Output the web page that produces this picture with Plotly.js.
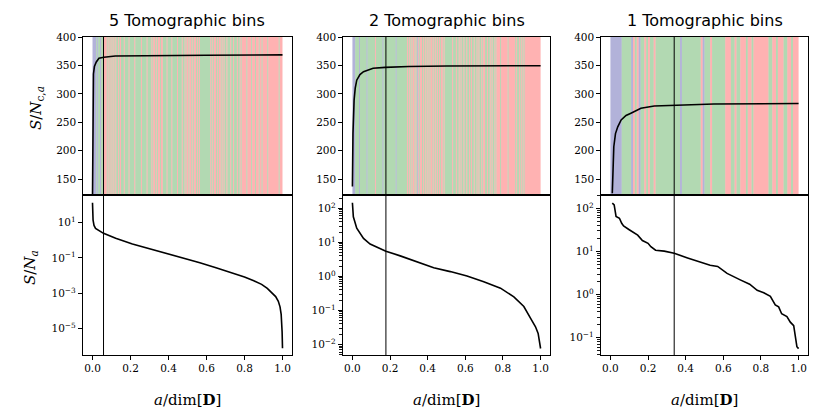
<!DOCTYPE html>
<html><head><meta charset="utf-8">
<script src="https://cdn.plot.ly/plotly-3.0.1.min.js"></script>
<style>html,body{margin:0;padding:0;background:#fff}#chart{width:830px;height:415px}</style>
</head><body><div id="chart"></div>
<script>
// ---------------- data ----------------
const panelTitles = ['5 Tomographic bins', '2 Tomographic bins', '1 Tomographic bins'];
const cutoffs = [0.058, 0.178, 0.339];

// cumulative S/N (top row)
const cumA1  = [0, 0.002, 0.005, 0.01, 0.02, 0.034, 0.06, 0.12, 0.3, 0.6, 1.0];
const cumSN1 = [118, 300, 335, 348, 356, 362.5, 364.5, 366.5, 367.5, 368, 368.5];
const cumA2  = [0, 0.003, 0.009, 0.015, 0.023, 0.04, 0.059, 0.11, 0.174, 0.3, 0.5, 1.0];
const cumSN2 = [137, 230, 289, 310, 324, 334, 339, 345, 346.5, 348, 349, 349.5];
const cumA3  = [0.01, 0.018, 0.027, 0.039, 0.057, 0.083, 0.109, 0.162, 0.233, 0.339, 0.55, 1.0];
const cumSN3 = [125, 207, 230, 242, 254, 262, 266, 274.5, 278.5, 280, 282, 283];

// per-mode S/N (bottom row)
const modeA1  = [0, 0.001, 0.003, 0.008, 0.016, 0.058, 0.122, 0.21, 0.3, 0.388, 0.48, 0.565, 0.65, 0.743, 0.8, 0.849, 0.89, 0.92, 0.945, 0.964, 0.978, 0.987, 0.993, 0.996, 0.998, 1.0];
const modeSN1 = [135, 40, 14, 7, 4.8, 2.5, 1.3, 0.62, 0.34, 0.19, 0.1, 0.054, 0.028, 0.0135, 0.0083, 0.0051, 0.0032, 0.0019, 0.0011, 6.5e-4, 3.5e-4, 1.7e-4, 6.3e-5, 2.0e-5, 6.3e-6, 7.6e-7];
const modeA2  = [0, 0.002, 0.005, 0.023, 0.041, 0.059, 0.094, 0.13, 0.178, 0.254, 0.343, 0.432, 0.52, 0.609, 0.698, 0.787, 0.858, 0.911, 0.947, 0.973, 0.987, 0.996, 1.0];
const modeSN2 = [145, 90, 56, 26, 18, 13, 8.9, 7.4, 5.5, 4.0, 2.7, 1.8, 1.38, 1.02, 0.69, 0.45, 0.25, 0.13, 0.058, 0.033, 0.021, 0.012, 0.0076];
const modeA3  = [0.01, 0.02, 0.03, 0.048, 0.06, 0.07, 0.10, 0.145, 0.17, 0.20, 0.215, 0.24, 0.286, 0.339, 0.41, 0.46, 0.53, 0.57, 0.62, 0.69, 0.74, 0.78, 0.815, 0.85, 0.876, 0.894, 0.91, 0.938, 0.956, 0.974, 0.982, 0.991, 1.0];
const modeSN3 = [132, 120, 65, 59, 45, 39, 32, 24, 18, 15.5, 12.9, 10.7, 10.2, 9.1, 7.1, 6.0, 4.8, 4.5, 3.1, 2.2, 1.74, 1.26, 1.10, 0.91, 0.58, 0.52, 0.36, 0.31, 0.23, 0.19, 0.105, 0.062, 0.056];

// band colour code of every mode (B = navy, G = green, R = red), modes ordered along a/dim[D]
const bands1 =
  'BBBBGBGGBG' + 'GGRRRGRGRG' + 'RGRGRGGRGR' + 'GGGRGGGGRG' + 'GGGGRGGGGG' +
  'GRGGGGGRGG' + 'GGRGRRGRGR' + 'RGRRGGGGRG' + 'GGGRGGGGGR' + 'GGGGRGGRGR' +
  'RGRRGRGRRG' + 'RGRGGGGGGG' + 'GGGGRGRGRR' + 'GRGRRGRGRG' + 'GRGGGRGGRG' +
  'GGRGGRGRRR' + 'RRGRRRRGRR' + 'RGRRRGRRGR' + 'RRRRGRRRRR' + 'RRRRRRGRRR';
const bands2 =
  'BBBGGGGBGG' + 'GGGGGBGGGG' + 'GGGGRGGGGG' + 'GGBGGGGGGG' + 'GGGGGGBGGG' +
  'GGGGGGGGRG' + 'RGRGRRGRGB' + 'RGRRGRGRGR' + 'GRGRRGRGRG' + 'RGRGRRGRGG' +
  'GGGGGGRGGG' + 'RGGRGRGGRG' + 'GRGGRGRGGR' + 'GGRGRGGRGR' + 'RGGRGGRGRG' +
  'GRGRRRRGRR' + 'RRRRRGRRRR' + 'RRRGRGGRGR' + 'GRGRRRRRRR' + 'RRRRRRRRRR';
const bands3 =
  'BBBBBBGGGG' + 'GBRGRBGGRG' + 'RGGRGGGGGG' + 'GGGGGGGBGG' + 'GGGGGGGGRB' +
  'GGGRGGGGGG' + 'GRRRGGRGGR' + 'RRGRRGRRRR' + 'RRRRGGRRGR' + 'RRGGRRGRRR';

// axis ticks
const topRange = [122, 400];
const topTickVals = [150, 200, 250, 300, 350, 400];
const xTickVals = [0, 0.2, 0.4, 0.6, 0.8, 1.0];
const xTickText = ['0.0', '0.2', '0.4', '0.6', '0.8', '1.0'];
const logTickVals1 = [1e1, 1e-1, 1e-3, 1e-5];
const logTickText1 = ['10<sup>1</sup>', '10<sup>−1</sup>', '10<sup>−3</sup>', '10<sup>−5</sup>'];
const logTickVals2 = [1e2, 1e1, 1, 1e-1, 1e-2];
const logTickText2 = ['10<sup>2</sup>', '10<sup>1</sup>', '10<sup>0</sup>', '10<sup>−1</sup>', '10<sup>−2</sup>'];
const logTickVals3 = [1e2, 1e1, 1, 1e-1];
const logTickText3 = ['10<sup>2</sup>', '10<sup>1</sup>', '10<sup>0</sup>', '10<sup>−1</sup>'];
const logRanges = [[-6.5, 2.57], [-2.31, 2.39], [-1.40, 2.31]];
const minorMultipliers = [2, 3, 4, 5, 6, 7, 8, 9];

// ---------------- styling ----------------
const bandColors = {B: 'rgba(0,0,128,0.3)', G: 'rgba(0,128,0,0.3)', R: 'rgba(255,0,0,0.3)'};
const serif = 'DejaVu Serif';
const W = 830, H = 415;
const colPx = [[83, 292], [343, 550], [601, 808]];
const topPx = [37, 195], botPx = [195, 355];
const xd = colPx.map(c => [c[0] / W, c[1] / W]);
const yTop = [1 - topPx[1] / H, 1 - topPx[0] / H];
const yBot = [1 - botPx[1] / H, 1 - botPx[0] / H];

function bandTrace(codes, xa, ya) {
  const n = codes.length;
  const mids = [], widths = [], cols = [], heights = [];
  let start = 0;
  for (let i = 1; i <= n; i++) {
    if (i === n || codes[i] !== codes[start]) {
      mids.push((start + i) / 2 / n);
      widths.push((i - start) / n);
      cols.push(bandColors[codes[start]]);
      heights.push(topRange[1] - topRange[0]);
      start = i;
    }
  }
  return {type: 'bar', x: mids, y: heights, base: topRange[0], width: widths,
    marker: {color: cols, line: {width: 0}}, xaxis: xa, yaxis: ya, hoverinfo: 'skip', showlegend: false};
}
function line(x, y, xa, ya) {
  return {type: 'scatter', mode: 'lines', x: x, y: y, xaxis: xa, yaxis: ya,
    line: {color: 'black', width: 1.6}, hoverinfo: 'skip', showlegend: false};
}
function minorVals(r) {
  const v = [];
  for (let k = Math.floor(r[0]) - 1; k <= Math.ceil(r[1]); k++)
    minorMultipliers.forEach(m => {
      const val = m * Math.pow(10, k), lg = Math.log10(val);
      if (lg > r[0] && lg < r[1]) v.push(val);
    });
  return v;
}

const bandsAll = [bands1, bands2, bands3];
const cumA = [cumA1, cumA2, cumA3], cumSN = [cumSN1, cumSN2, cumSN3];
const modeA = [modeA1, modeA2, modeA3], modeSN = [modeSN1, modeSN2, modeSN3];
const logTV = [logTickVals1, logTickVals2, logTickVals3];
const logTT = [logTickText1, logTickText2, logTickText3];

const traces = [];
const layout = {
  width: W, height: H, margin: {l: 0, r: 0, t: 0, b: 0},
  paper_bgcolor: 'white', plot_bgcolor: 'rgba(0,0,0,0)', barmode: 'overlay', showlegend: false,
  font: {family: serif, size: 10.5, color: 'black'},
  annotations: [], shapes: []
};

const common = {showline: true, mirror: true, linecolor: 'black', linewidth: 1.2,
  showgrid: false, zeroline: false, ticks: 'outside', ticklen: 3.5, tickwidth: 1, tickcolor: 'black',
  tickfont: {family: serif, size: 10.5, color: 'black'}};

for (let i = 0; i < 3; i++) {
  const bx = 'x' + (i + 4), by = 'y' + (i + 4);
  const txa = i === 0 ? 'xaxis' : 'xaxis' + (i + 1);
  const tya = i === 0 ? 'yaxis' : 'yaxis' + (i + 1);
  const bxa = 'xaxis' + (i + 4), bya = 'yaxis' + (i + 4);
  const txr = i === 0 ? 'x' : 'x' + (i + 1), tyr = i === 0 ? 'y' : 'y' + (i + 1);

  traces.push(bandTrace(bandsAll[i], txr, tyr));
  traces.push(line(cumA[i], cumSN[i], txr, tyr));
  traces.push(line(modeA[i], modeSN[i], bx, by));

  layout[txa] = Object.assign({}, common, {domain: xd[i], anchor: tyr, range: [-0.05, 1.05],
    ticks: '', showticklabels: false});
  layout[tya] = Object.assign({}, common, {domain: yTop, anchor: txr, range: topRange,
    tickmode: 'array', tickvals: topTickVals, ticktext: topTickVals.map(String)});
  layout[bxa] = Object.assign({}, common, {domain: xd[i], anchor: by, range: [-0.05, 1.05],
    tickmode: 'array', tickvals: xTickVals, ticktext: xTickText});
  const ly = Object.assign({}, common, {domain: yBot, anchor: bx, type: 'log', range: logRanges[i],
    tickmode: 'array', tickvals: logTV[i], ticktext: logTT[i], ticklen: 4});
  if (i > 0) {
    ly.minor = {tickmode: 'array', tickvals: minorVals(logRanges[i]), ticks: 'outside',
      ticklen: 2.5, tickwidth: 0.9, tickcolor: 'black', showgrid: false};
  }
  layout[bya] = ly;

  // vertical cutoff line through both rows
  layout.shapes.push({type: 'line', xref: txr, yref: 'paper', x0: cutoffs[i], x1: cutoffs[i],
    y0: yBot[0], y1: yTop[1], line: {color: 'black', width: 1}});

  // panel title
  layout.annotations.push({text: panelTitles[i], xref: 'paper', yref: 'paper',
    x: (xd[i][0] + xd[i][1]) / 2, y: 1 - 20 / H, xanchor: 'center', yanchor: 'middle',
    showarrow: false, font: {family: 'DejaVu Sans', size: 16, color: 'black'}});
  // x title
  layout.annotations.push({text: '<i>a</i>/dim[<b>D</b>]', xref: 'paper', yref: 'paper',
    x: (xd[i][0] + xd[i][1]) / 2, y: 1 - 400 / H, xanchor: 'center', yanchor: 'middle',
    showarrow: false, font: {family: serif, size: 15, color: 'black'}});
}
// y titles
layout.annotations.push({text: '<i>S</i>/<i>N</i><sub>c,<i>a</i></sub>', xref: 'paper', yref: 'paper',
  x: 36 / W, y: 1 - 108 / H, xanchor: 'center', yanchor: 'middle', textangle: -90,
  showarrow: false, font: {family: serif, size: 15, color: 'black'}});
layout.annotations.push({text: '<i>S</i>/<i>N</i><sub><i>a</i></sub>', xref: 'paper', yref: 'paper',
  x: 30 / W, y: 1 - 268 / H, xanchor: 'center', yanchor: 'middle', textangle: -90,
  showarrow: false, font: {family: serif, size: 15, color: 'black'}});

Plotly.newPlot('chart', traces, layout, {staticPlot: true, displayModeBar: false});
</script>
</body></html>
